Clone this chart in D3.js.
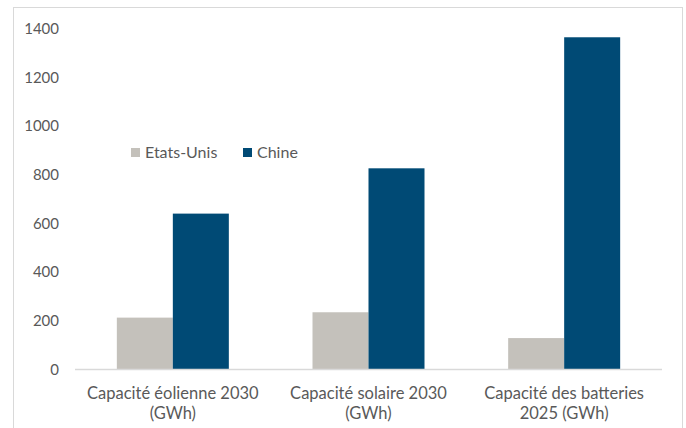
<!DOCTYPE html>
<html><head><meta charset="utf-8">
<script src="https://cdn.jsdelivr.net/npm/d3@7"></script>
<style>body{margin:0;background:#fff}svg{display:block}</style>
</head><body>
<script>
const categories = [["Capacité éolienne 2030","(GWh)"],["Capacité solaire 2030","(GWh)"],["Capacité des batteries","2025 (GWh)"]];
const seriesNames = ["Etats-Unis","Chine"];
const usValues = [213, 235, 129];
const chinaValues = [640, 826, 1364];
const yTicks = [0,200,400,600,800,1000,1200,1400];
const colors = ["#c4c1bb","#004a75"];

const W=686,H=428;
const svg=d3.select("body").append("svg").attr("width",W).attr("height",H);
const font="Lato, 'Open Sans', sans-serif";
const txt="#595959";

svg.append("rect").attr("x",13.5).attr("y",7.5).attr("width",669).attr("height",440)
  .attr("fill","#fff").attr("stroke","#d9d9d9").attr("stroke-width",1);

const x0=d3.scaleBand().domain(d3.range(categories.length)).range([75,662]).paddingInner(0).paddingOuter(0);
const x1=d3.scaleBand().domain(d3.range(seriesNames.length)).range([0,112]);
const y=d3.scaleLinear().domain([0,1400]).range([369.5,28.5]);

const data=[usValues,chinaValues];
const g=svg.append("g");
categories.forEach((c,i)=>{
  const cx=x0(i)+x0.bandwidth()/2;
  data.forEach((vals,s)=>{
    g.append("rect").attr("x",cx-56+x1(s)).attr("width",x1.bandwidth())
      .attr("y",y(vals[i])).attr("height",y(0)-y(vals[i])).attr("fill",colors[s]);
  });
});

svg.append("line").attr("x1",75).attr("x2",662).attr("y1",y(0)).attr("y2",y(0))
  .attr("stroke","#d9d9d9").attr("stroke-width",1.5);

const ya=svg.append("g").attr("transform","translate(62,0)")
  .call(d3.axisLeft(y).tickValues(yTicks).tickSize(0).tickPadding(3).tickFormat(d3.format("d")));
ya.select(".domain").remove();
ya.selectAll("text").attr("fill",txt).style("font-family",font).style("font-size","15px");

const xa=svg.append("g");
categories.forEach((c,i)=>{
  const cx=x0(i)+x0.bandwidth()/2;
  c.forEach((line,j)=>{
    xa.append("text").attr("x",cx).attr("y",393+j*20).attr("dy","0.35em").attr("text-anchor","middle")
      .attr("fill",txt).style("font-family",font).style("font-size","16.5px").text(line);
  });
});

const legX=[131,243];
seriesNames.forEach((n,s)=>{
  svg.append("rect").attr("x",legX[s]).attr("y",148).attr("width",9).attr("height",9).attr("fill",colors[s]);
  svg.append("text").attr("x",legX[s]+14).attr("y",152.5).attr("dy","0.35em").attr("fill",txt)
    .style("font-family",font).style("font-size","16px").text(n);
});
</script>
</body></html>
